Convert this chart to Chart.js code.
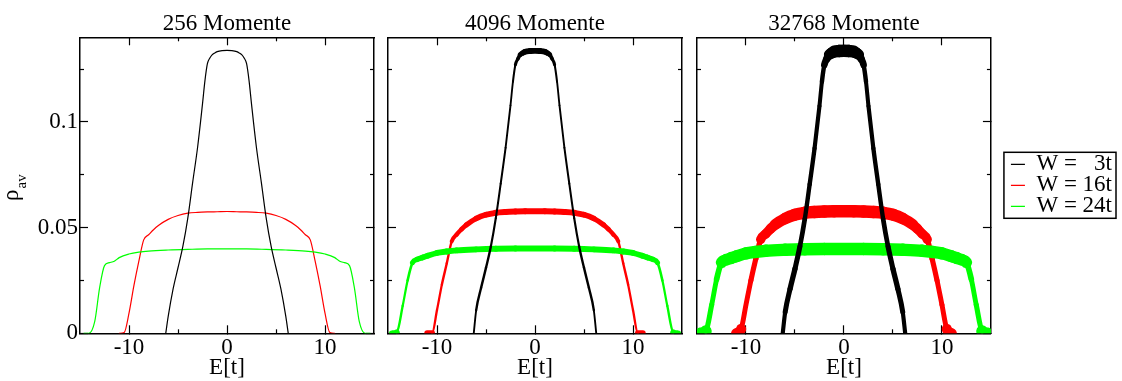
<!DOCTYPE html>
<html>
<head>
<meta charset="utf-8">
<script src="https://cdn.jsdelivr.net/npm/chart.js@4.4.1/dist/chart.umd.min.js"></script>
<style>
  body { margin: 0; background: #fff; overflow: hidden; }
  #wrap { position: relative; width: 1122px; height: 381px; }
  canvas { position: absolute; top: 0; }
</style>
</head>
<body>
<div id="wrap">
  <canvas id="chart256" width="381" height="381" style="left:0"></canvas>
  <canvas id="chart4096" width="309" height="381" style="left:381px"></canvas>
  <canvas id="chart32768" width="432" height="381" style="left:690px"></canvas>
</div>
<script>
// Energien (in t) der Stützstellen, je Unordnung W
const energyW3 = [-6.25, -6, -5.5, -5, -4.5, -4, -3.5, -3, -2.5, -2.25, -2, -1.75, -1.5, -1.25, -1, -0.5, 0,
  0.5, 1, 1.25, 1.5, 1.75, 2, 2.25, 2.5, 3, 3.5, 4, 4.5, 5, 5.5, 6, 6.25];
const energyW16 = [-11, -10.5, -10, -9.5, -9, -8.5, -8, -7.5, -7, -6, -5, -4, -3, -2, -1, 0,
  1, 2, 3, 4, 5, 6, 7, 7.5, 8, 8.5, 9, 9.5, 10, 10.5, 11];
const energyW24 = [-14.6, -14.1, -13.5, -13, -12.5, -12, -11.5, -11, -10, -9, -8, -6, -4, -2, 0,
  2, 4, 6, 8, 9, 10, 11, 11.5, 12, 12.5, 13, 13.5, 14.1, 14.6];

// gemittelte Zustandsdichte rho_av, 256 Momente
const rho256W3 = [0, 0.008, 0.021, 0.031, 0.0412, 0.0545, 0.0715, 0.088, 0.1085, 0.1195, 0.1275, 0.1302, 0.1318, 0.1326, 0.1332, 0.1337, 0.1338,
  0.1337, 0.1332, 0.1326, 0.1318, 0.1302, 0.1275, 0.1195, 0.1085, 0.088, 0.0715, 0.0545, 0.0412, 0.031, 0.021, 0.008, 0];
const rho256W16 = [0, 0.0003, 0.0095, 0.0225, 0.034, 0.0442, 0.0466, 0.049, 0.051, 0.0539, 0.0557, 0.0568, 0.0572, 0.0574, 0.0575, 0.0576,
  0.0575, 0.0574, 0.0572, 0.0568, 0.0557, 0.0539, 0.051, 0.049, 0.0466, 0.0442, 0.034, 0.0225, 0.0095, 0.0003, 0];
const rho256W24 = [0, 0, 0.0055, 0.0215, 0.032, 0.0334, 0.0341, 0.0358, 0.0375, 0.0384, 0.0389, 0.0394, 0.0397, 0.0399, 0.0399,
  0.0399, 0.0397, 0.0394, 0.0389, 0.0384, 0.0375, 0.0358, 0.0341, 0.0334, 0.032, 0.0215, 0.0055, 0, 0];

// 4096 Momente
const rho4096W3 = [0, 0.011, 0.0215, 0.031, 0.0412, 0.0545, 0.0708, 0.0878, 0.1078, 0.119, 0.127, 0.1298, 0.1318, 0.1326, 0.1332, 0.1335, 0.1336,
  0.1335, 0.1332, 0.1326, 0.1318, 0.1298, 0.127, 0.119, 0.1078, 0.0878, 0.0708, 0.0545, 0.0412, 0.031, 0.0215, 0.011, 0];
const rho4096W16 = [0, 0, 0.011, 0.0231, 0.0331, 0.0435, 0.0467, 0.0492, 0.0513, 0.0543, 0.0561, 0.057, 0.0574, 0.0576, 0.0577, 0.0577,
  0.0577, 0.0576, 0.0574, 0.057, 0.0561, 0.0543, 0.0513, 0.0492, 0.0467, 0.0435, 0.0331, 0.0231, 0.011, 0, 0];
const rho4096W24 = [0, 0.0005, 0.013, 0.025, 0.0334, 0.035, 0.0358, 0.0366, 0.038, 0.0387, 0.0392, 0.0397, 0.04, 0.0401, 0.0401,
  0.0401, 0.04, 0.0397, 0.0392, 0.0387, 0.038, 0.0366, 0.0358, 0.035, 0.0334, 0.025, 0.013, 0.0005, 0];

// 32768 Momente
const rho32768W3 = [0, 0.01, 0.021, 0.0305, 0.041, 0.054, 0.0705, 0.0875, 0.1075, 0.119, 0.127, 0.1298, 0.1318, 0.1326, 0.1332, 0.1335, 0.1336,
  0.1335, 0.1332, 0.1326, 0.1318, 0.1298, 0.127, 0.119, 0.1075, 0.0875, 0.0705, 0.054, 0.041, 0.0305, 0.021, 0.01, 0];
const rho32768W16 = [0, 0.002, 0.0135, 0.025, 0.0352, 0.0444, 0.047, 0.0494, 0.0515, 0.0543, 0.0561, 0.057, 0.0574, 0.0576, 0.0577, 0.0577,
  0.0577, 0.0576, 0.0574, 0.057, 0.0561, 0.0543, 0.0515, 0.0494, 0.047, 0.0444, 0.0352, 0.025, 0.0135, 0.002, 0];
const rho32768W24 = [0, 0.001, 0.0135, 0.0255, 0.0335, 0.0348, 0.0356, 0.0364, 0.0378, 0.0385, 0.039, 0.0395, 0.0398, 0.0399, 0.0399,
  0.0399, 0.0398, 0.0395, 0.039, 0.0385, 0.0378, 0.0364, 0.0356, 0.0348, 0.0335, 0.0255, 0.0135, 0.001, 0];

// Achsen und Beschriftung
const energyRange = [-15, 15];
const rhoRange = [0, 0.14];
const energyTicks = [-10, 0, 10];
const energyMinorTicks = [-5, 5];
const rhoTicks = [0, 0.05, 0.1];
const rhoMinorTicks = [0.025, 0.075, 0.125];
const seriesLabels = ['W =   3t', 'W = 16t', 'W = 24t'];
const seriesColors = ['#000000', '#ff0000', '#00ff00'];

Chart.defaults.font.family = '"Liberation Serif", "Times New Roman", serif';
Chart.defaults.font.size = 23;
Chart.defaults.color = '#000';

const majorGrid = { drawOnChartArea: false, tickLength: -8, tickColor: '#000', tickWidth: 1.2 };
const minorGrid = { drawOnChartArea: false, tickLength: -4, tickColor: '#000', tickWidth: 1.2 };
const frame = { display: true, color: '#000', width: 1.5 };

function fixedTicks(values) {
  return scale => { scale.ticks = values.map(v => ({ value: v })); };
}

// eine Achse nur fuer Striche (Haupt- oder Nebenstriche)
function tickAxis(axis, position, ticks, grid, weight, size, border) {
  const range = axis === 'x' ? energyRange : rhoRange;
  return {
    type: 'linear', axis, position, weight,
    min: range[0], max: range[1],
    afterBuildTicks: fixedTicks(ticks),
    afterFit: sc => { if (axis === 'x') sc.height = size; else sc.width = size; },
    grid, border: border ? frame : { display: false },
    ticks: { display: false, autoSkip: false }
  };
}

function buildScales(left, right, yLabels) {
  return {
    x: {
      type: 'linear', position: 'bottom', weight: 1,
      min: energyRange[0], max: energyRange[1],
      afterBuildTicks: fixedTicks(energyTicks),
      afterFit: sc => { sc.height = 47.7; },
      grid: majorGrid, border: frame,
      ticks: { autoSkip: false, maxRotation: 0, padding: 9.2, callback: v => String(v) },
      title: { display: true, text: 'E[t]', padding: { top: 0, bottom: -1 } }
    },
    xMinor: tickAxis('x', 'bottom', energyMinorTicks, minorGrid, 0, 0, false),
    xTop: tickAxis('x', 'top', energyTicks, majorGrid, 1, 0, true),
    xTopMinor: tickAxis('x', 'top', energyMinorTicks, minorGrid, 0, 0, false),
    y: {
      type: 'linear', position: 'left', weight: 1,
      min: rhoRange[0], max: rhoRange[1],
      afterBuildTicks: fixedTicks(rhoTicks),
      afterFit: sc => { sc.width = left; },
      grid: majorGrid, border: frame,
      ticks: { display: yLabels, autoSkip: false, padding: 10, callback: v => String(v) }
    },
    yMinor: tickAxis('y', 'left', rhoMinorTicks, minorGrid, 0, 0, false),
    yRight: tickAxis('y', 'right', rhoTicks, majorGrid, 1, right, true),
    yRightMinor: tickAxis('y', 'right', rhoMinorTicks, minorGrid, 0, 0, false)
  };
}

// Streuung der stochastischen Spurschaetzung als breiterer Strich
function noiseWidth(c, noise) {
  const dx = c.p1.x - c.p0.x, dy = c.p1.y - c.p0.y;
  const len = Math.hypot(dx, dy) || 1;
  return noise.base + noise.band * Math.abs(dx) / len;
}

function series(i, xs, ys, noise) {
  return {
    label: seriesLabels[i],
    data: xs.map((x, k) => ({ x, y: ys[k] })),
    borderColor: seriesColors[i],
    backgroundColor: seriesColors[i],
    borderWidth: 1.3,
    borderCapStyle: 'round',
    borderJoinStyle: 'round',
    pointRadius: 0,
    cubicInterpolationMode: 'monotone',
    order: [0, 2, 1][i],
    segment: { borderWidth: c => noiseWidth(c, noise) }
  };
}

// rho_av mit Index an der y-Achse
const rhoLabel = {
  id: 'rhoLabel',
  afterDraw(chart) {
    const ctx = chart.ctx;
    ctx.save();
    ctx.translate(18, 201);
    ctx.rotate(-Math.PI / 2);
    ctx.fillStyle = '#000';
    ctx.font = '23px "Liberation Serif"';
    ctx.fillText('ρ', 0, 0);
    const w = ctx.measureText('ρ').width;
    ctx.font = '15px "Liberation Serif"';
    ctx.fillText('av', w + 1, 8);
    ctx.restore();
  }
};

// Rahmen um die Legende
const legendFrame = {
  id: 'legendFrame',
  afterDraw(chart) {
    const boxes = chart.legend && chart.legend.legendHitBoxes;
    if (!boxes || !boxes.length) return;
    const left = Math.min(...boxes.map(b => b.left)) - 5;
    const right = Math.max(...boxes.map(b => b.left + b.width)) + 4;
    const top = Math.min(...boxes.map(b => b.top)) - 0.5;
    const bottom = Math.max(...boxes.map(b => b.top + b.height)) + 0.5;
    const ctx = chart.ctx;
    ctx.save();
    ctx.strokeStyle = '#000';
    ctx.lineWidth = 1.5;
    ctx.strokeRect(left, top, right - left, bottom - top);
    ctx.restore();
  }
};

function makePanel(id, title, rho, noise, layout, withLegend, plugins) {
  new Chart(document.getElementById(id), {
    type: 'line',
    data: {
      datasets: [
        series(0, energyW3, rho[0], noise),
        series(1, energyW16, rho[1], noise),
        series(2, energyW24, rho[2], noise)
      ]
    },
    options: {
      responsive: false,
      animation: false,
      events: [],
      layout: { padding: { left: layout.padLeft, right: layout.padRight, top: 0, bottom: 0 } },
      scales: buildScales(layout.axisLeft, layout.axisRight, layout.yLabels),
      plugins: {
        title: {
          display: true, text: title, fullSize: false,
          font: { weight: 'normal' },
          padding: { top: 9.7, bottom: 0 }
        },
        tooltip: { enabled: false },
        legend: {
          display: withLegend,
          position: 'right',
          fullSize: false,
          maxWidth: 140,
          labels: {
            usePointStyle: true,
            pointStyle: 'line',
            pointStyleWidth: 16,
            padding: -2,
            color: '#000',
            sort: (a, b) => a.datasetIndex - b.datasetIndex
          }
        }
      }
    },
    plugins
  });
}

makePanel('chart256', '256 Momente', [rho256W3, rho256W16, rho256W24],
  { base: 1.2, band: 0 },
  { padLeft: 0, padRight: 7, axisLeft: 80, axisRight: 0, yLabels: true }, false, [rhoLabel]);

makePanel('chart4096', '4096 Momente', [rho4096W3, rho4096W16, rho4096W24],
  { base: 1.4, band: 4.5 },
  { padLeft: 7, padRight: 8, axisLeft: 0, axisRight: 0, yLabels: false }, false, []);

makePanel('chart32768', '32768 Momente', [rho32768W3, rho32768W16, rho32768W24],
  { base: 3.1, band: 9.4 },
  { padLeft: 7, padRight: 0, axisLeft: 0, axisRight: 20, yLabels: false }, true, [legendFrame]);
</script>
</body>
</html>
